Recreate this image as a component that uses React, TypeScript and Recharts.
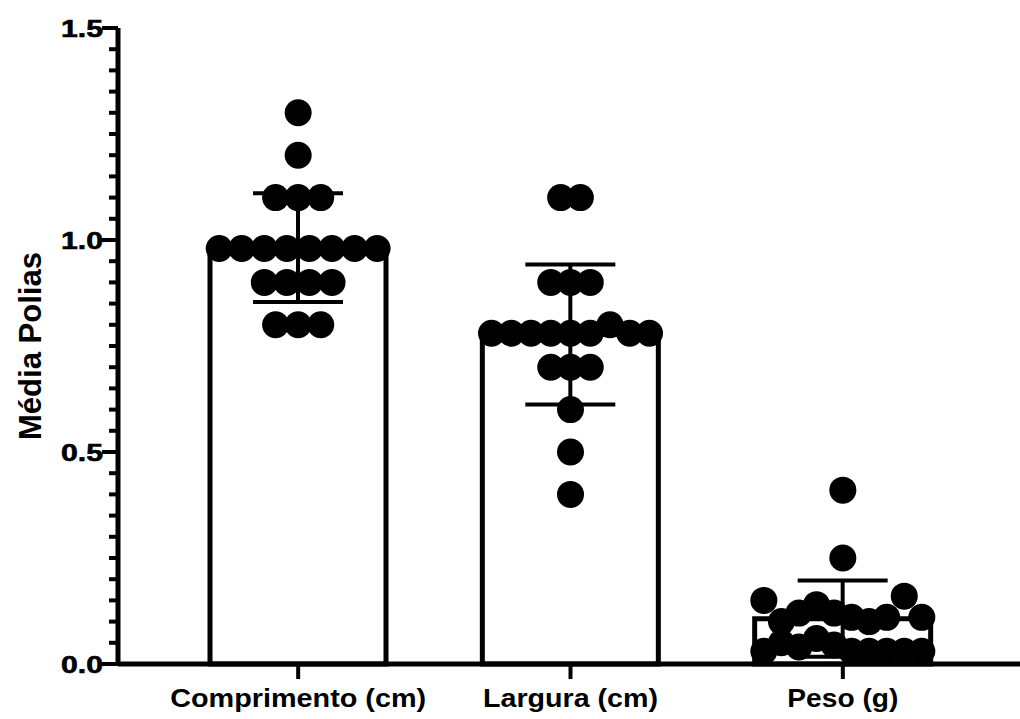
import { ComposedChart, Bar, Scatter, XAxis, YAxis, ErrorBar, Label } from 'recharts';

const categories = ['Comprimento (cm)', 'Largura (cm)', 'Peso (g)'];
const barMeans = [0.982, 0.777, 0.107];
const barSd = [0.128, 0.165, 0.09];

// individual points, in sample order (order sets the left-to-right place inside a row)
const comprimento = [1.3, 1.2, 1.1, 1.1, 1.1, 0.98, 0.98, 0.98, 0.98, 0.98, 0.98, 0.98, 0.98, 0.9, 0.9, 0.9, 0.9, 0.8, 0.8, 0.8];
const largura = [1.1, 1.1, 0.9, 0.9, 0.9, 0.78, 0.78, 0.78, 0.78, 0.78, 0.78, 0.8, 0.78, 0.78, 0.7, 0.7, 0.7, 0.6, 0.5, 0.4];
const peso = [0.41, 0.25, 0.15, 0.1, 0.12, 0.14, 0.12, 0.11, 0.1, 0.11, 0.16, 0.11, 0.03, 0.05, 0.04, 0.06, 0.045, 0.03, 0.03, 0.03, 0.03, 0.03];

const yMajorTicks = [0, 0.5, 1.0, 1.5];
const yTicks = Array.from({ length: 31 }, (_, i) => Math.round(i * 5) / 100);

const FONT = '"Liberation Sans", Arial, sans-serif';
const TOL = 0.03; // values closer than this share a row
const ROW_WIDTH = 0.58; // widest row, in category units

function swarm(values: number[], cat: number) {
  const order = values.map((_, i) => i).sort((a, b) => values[a] - values[b]);
  const rows: number[][] = [];
  let cur: number[] = [];
  order.forEach((i, k) => {
    if (k > 0 && values[i] - values[order[k - 1]] > TOL) {
      rows.push(cur);
      cur = [];
    }
    cur.push(i);
  });
  rows.push(cur);
  const maxRow = Math.max(...rows.map((r) => r.length));
  const step = maxRow > 1 ? ROW_WIDTH / (maxRow - 1) : 0;
  const pts: { x: number; y: number }[] = [];
  rows.forEach((r) => {
    r.sort((a, b) => a - b);
    r.forEach((i, k) => pts.push({ x: cat + (k - (r.length - 1) / 2) * step, y: values[i] }));
  });
  return pts;
}

const barData = categories.map((name, i) => ({ name, mean: barMeans[i], sd: barSd[i] }));
const dots = [...swarm(comprimento, 0), ...swarm(largura, 1), ...swarm(peso, 2)];

const isMajor = (v: number) => yMajorTicks.some((m) => Math.abs(m - v) < 1e-6);

function YTick(props: any) {
  const { x, y, payload } = props;
  const major = isMajor(payload.value);
  return (
    <g>
      <line x1={x - (major ? 16 : 9)} x2={x} y1={y} y2={y} stroke="#000" strokeWidth={4} />
      {major && (
        <text x={x - 57} y={y + 9} fontFamily={FONT} fontWeight="bold" fontSize={24} fill="#000"
          stroke="#000" strokeWidth={0.6} textLength={42} lengthAdjust="spacingAndGlyphs">
          {payload.value.toFixed(1)}
        </text>
      )}
    </g>
  );
}

const xLabelWidths: Record<string, number> = { 'Comprimento (cm)': 256, 'Largura (cm)': 175, 'Peso (g)': 111 };

function XTick(props: any) {
  const { x, y, payload } = props;
  const w = xLabelWidths[payload.value];
  return (
    <g>
      <line x1={x} x2={x} y1={y} y2={y + 15} stroke="#000" strokeWidth={4} />
      <text x={x - w / 2} y={y + 43} fontFamily={FONT} fontWeight="bold" fontSize={26} fill="#000"
        textLength={w} lengthAdjust="spacingAndGlyphs">
        {payload.value}
      </text>
    </g>
  );
}

function YLabel() {
  return (
    <text x={41} y={346} transform="rotate(-90, 41, 346)" textAnchor="middle" fontFamily={FONT}
      fontWeight="bold" fontSize={31} fill="#000" textLength={188} lengthAdjust="spacingAndGlyphs">
      Média Polias
    </text>
  );
}

const Dot = (props: any) => <circle cx={props.cx} cy={props.cy} r={13.5} fill="#000" />;

export default function App() {
  return (
    <div style={{ position: 'absolute', left: 0, top: 0, background: '#fff' }}>
      <ComposedChart width={1020} height={719} data={barData} margin={{ top: 28, right: 0, bottom: 0, left: 0 }}>
        <XAxis xAxisId="cat" dataKey="name" type="category" height={55} padding={{ left: 44, right: 41 }}
          axisLine={{ stroke: '#000', strokeWidth: 5 }} tickLine={false} tickSize={0} tickMargin={0}
          tick={<XTick />} interval={0} />
        <XAxis xAxisId="dots" dataKey="x" type="number" domain={[-0.5, 2.5]} hide
          padding={{ left: 44, right: 41 }} allowDataOverflow />
        <YAxis type="number" domain={[0, 1.5]} ticks={yTicks} interval={0} width={118}
          axisLine={{ stroke: '#000', strokeWidth: 5 }} tickLine={false} tickSize={0} tickMargin={0}
          tick={<YTick />}>
          <Label content={<YLabel />} />
        </YAxis>
        <Bar xAxisId="cat" dataKey="mean" barSize={176} fill="#fff" stroke="#000" strokeWidth={5}
          isAnimationActive={false}>
          <ErrorBar dataKey="sd" width={45} stroke="#000" strokeWidth={4} direction="y" />
        </Bar>
        <Scatter xAxisId="dots" data={dots} dataKey="y" shape={<Dot />} isAnimationActive={false} />
      </ComposedChart>
    </div>
  );
}
